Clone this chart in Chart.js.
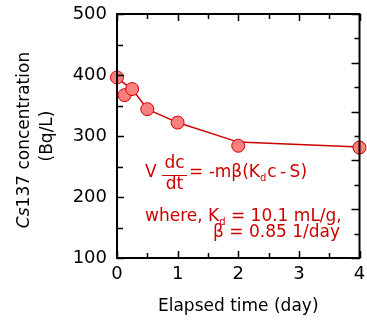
<!DOCTYPE html>
<html><head><meta charset="utf-8">
<script src="https://cdn.jsdelivr.net/npm/chart.js@4.4.1/dist/chart.umd.min.js"></script>
<style>html,body{margin:0;padding:0;background:#fff;}#wrap{width:367px;height:320px;}</style>
</head><body><div id="wrap"><canvas id="c" width="367" height="320"></canvas></div>
<script>
const measuredTime = [0, 0.125, 0.25, 0.5, 1, 2, 4];
const measuredConc = [396, 367, 377, 344, 322, 284, 281];
const modelTime = [0, 0.25, 0.5, 1, 2, 4];
const modelConc = [395, 377, 344, 322, 290, 282];
const xTickLabels = [0, 1, 2, 3, 4];
const yTickLabels = [100, 200, 300, 400, 500];
const xTickMarks = [0, 0.5, 1, 1.5, 2, 2.5, 3, 3.5, 4];
const yTickMarks = [100, 150, 200, 250, 300, 350, 400, 450, 500];
const rightTickMarks = [0, 0.1, 0.2, 0.3, 0.4, 0.5, 0.6, 0.7, 0.8, 0.9, 1];
const xTitle = 'Elapsed time (day)';
const yTitleItalic = 'Cs';
const yTitleRest = '137 concentration';
const yTitleUnit = '(Bq/L)';
const eqNumerator = 'dc', eqDenominator = 'dt', eqLeft = 'V';
const eqRight = ['= -mβ(K', 'd', 'c\u2009-\u2009S)'];
const whereLine = ['where, K', 'd', ' = 10.1 mL/g,'];
const betaLine = 'β = 0.85 1/day';

const FONT = '"DejaVu Sans", sans-serif';
const RED = '#cc0000';

const decor = {
  id: 'decor',
  afterDatasetsDraw(chart) {
    const {ctx, chartArea: a, scales} = chart;
    const xs = scales.x, ys = scales.y, y2 = scales.y2;
    ctx.save();
    ctx.strokeStyle = '#000';
    ctx.lineWidth = 2;
    ctx.strokeRect(a.left, a.top, a.right - a.left, a.bottom - a.top);
    ctx.lineWidth = 1.5;
    ctx.beginPath();
    xTickMarks.forEach(v => {
      const px = Math.round(xs.getPixelForValue(v)) + 0.5;
      const len = Number.isInteger(v) ? 7 : 5;
      ctx.moveTo(px, a.bottom); ctx.lineTo(px, a.bottom - len);
      ctx.moveTo(px, a.top); ctx.lineTo(px, a.top + len);
    });
    yTickMarks.forEach(v => {
      const py = Math.round(ys.getPixelForValue(v)) + 0.5;
      const len = v % 100 === 0 ? 7 : 6;
      ctx.moveTo(a.left, py); ctx.lineTo(a.left + len, py);
    });
    rightTickMarks.forEach((v, i) => {
      const py = Math.round(y2.getPixelForValue(v)) + 0.5;
      const len = i % 2 === 0 ? 8 : 5;
      ctx.moveTo(a.right, py); ctx.lineTo(a.right - len, py);
    });
    ctx.stroke();

    // y title
    ctx.fillStyle = '#000';
    ctx.textBaseline = 'middle';
    ctx.save();
    ctx.translate(25, 140);
    ctx.rotate(-Math.PI / 2);
    ctx.font = 'italic 17px ' + FONT;
    const w1 = ctx.measureText(yTitleItalic).width;
    ctx.font = '17px ' + FONT;
    const w2 = ctx.measureText(yTitleRest).width;
    let sx = -(w1 + w2) / 2;
    ctx.textAlign = 'left';
    ctx.font = 'italic 17px ' + FONT;
    ctx.fillText(yTitleItalic, sx, 0);
    ctx.font = '17px ' + FONT;
    ctx.fillText(yTitleRest, sx + w1, 0);
    ctx.restore();
    ctx.save();
    ctx.translate(48, 136);
    ctx.rotate(-Math.PI / 2);
    ctx.font = '17px ' + FONT;
    ctx.textAlign = 'center';
    ctx.fillText(yTitleUnit, 0, 0);
    ctx.restore();

    // equation
    ctx.fillStyle = RED;
    ctx.strokeStyle = RED;
    ctx.textBaseline = 'alphabetic';
    ctx.textAlign = 'left';
    const big = '17px ' + FONT, small = '10px ' + FONT;
    ctx.font = big;
    ctx.fillText(eqLeft, 145, 177);
    ctx.textAlign = 'center';
    ctx.fillText(eqNumerator, 174.5, 168);
    ctx.fillText(eqDenominator, 174.5, 189);
    ctx.lineWidth = 1;
    ctx.beginPath(); ctx.moveTo(162, 175.5); ctx.lineTo(187, 175.5); ctx.stroke();
    ctx.textAlign = 'left';
    let x = 189;
    ctx.font = big; ctx.fillText(eqRight[0], x, 177); x += ctx.measureText(eqRight[0]).width;
    ctx.font = small; ctx.fillText(eqRight[1], x, 181); x += ctx.measureText(eqRight[1]).width + 1;
    ctx.font = big; ctx.fillText(eqRight[2], x, 177);

    x = 145;
    ctx.font = big; ctx.fillText(whereLine[0], x, 221); x += ctx.measureText(whereLine[0]).width;
    ctx.font = small; ctx.fillText(whereLine[1], x, 225); x += ctx.measureText(whereLine[1]).width;
    ctx.font = big; ctx.fillText(whereLine[2], x, 221);
    ctx.textAlign = 'right';
    ctx.fillText(betaLine, 340, 237);
    ctx.restore();
  }
};

new Chart(document.getElementById('c'), {
  type: 'scatter',
  data: {
    datasets: [
      {
        label: 'measured',
        data: measuredTime.map((t, i) => ({x: t, y: measuredConc[i]})),
        pointRadius: 6.5,
        pointBackgroundColor: '#ff7f7f',
        pointBorderColor: RED,
        pointBorderWidth: 1,
        showLine: false,
        clip: false,
        order: 0
      },
      {
        label: 'model',
        data: modelTime.map((t, i) => ({x: t, y: modelConc[i]})),
        showLine: true,
        pointRadius: 0,
        borderColor: RED,
        borderWidth: 1.5,
        clip: false,
        order: 1
      }
    ]
  },
  options: {
    responsive: false,
    animation: false,
    devicePixelRatio: 1,
    layout: {padding: {top: 14, right: 4, left: 0, bottom: 0}},
    plugins: {legend: {display: false}, tooltip: {enabled: false}},
    scales: {
      x: {
        type: 'linear', min: 0, max: 4,
        afterBuildTicks: s => { s.ticks = xTickLabels.map(v => ({value: v})); },
        grid: {display: false, drawTicks: false},
        border: {display: false},
        ticks: {font: {family: FONT, size: 18}, color: '#000', padding: 6, maxRotation: 0, autoSkip: false},
        title: {display: true, text: xTitle, font: {family: FONT, size: 17}, color: '#000', padding: {top: 2, bottom: 3}},
        afterFit: s => { s.height = 62; s.paddingLeft = 0; s.paddingRight = 0; }
      },
      y: {
        type: 'linear', min: 100, max: 500,
        afterBuildTicks: s => { s.ticks = yTickLabels.map(v => ({value: v})); },
        grid: {display: false, drawTicks: false},
        border: {display: false},
        ticks: {font: {family: FONT, size: 18}, color: '#000', padding: 10},
        afterFit: s => { s.width = 117; s.paddingTop = 0; s.paddingBottom = 0; }
      },
      y2: {type: 'linear', min: 0, max: 1, position: 'right', display: false}
    }
  },
  plugins: [decor]
});
</script></body></html>
